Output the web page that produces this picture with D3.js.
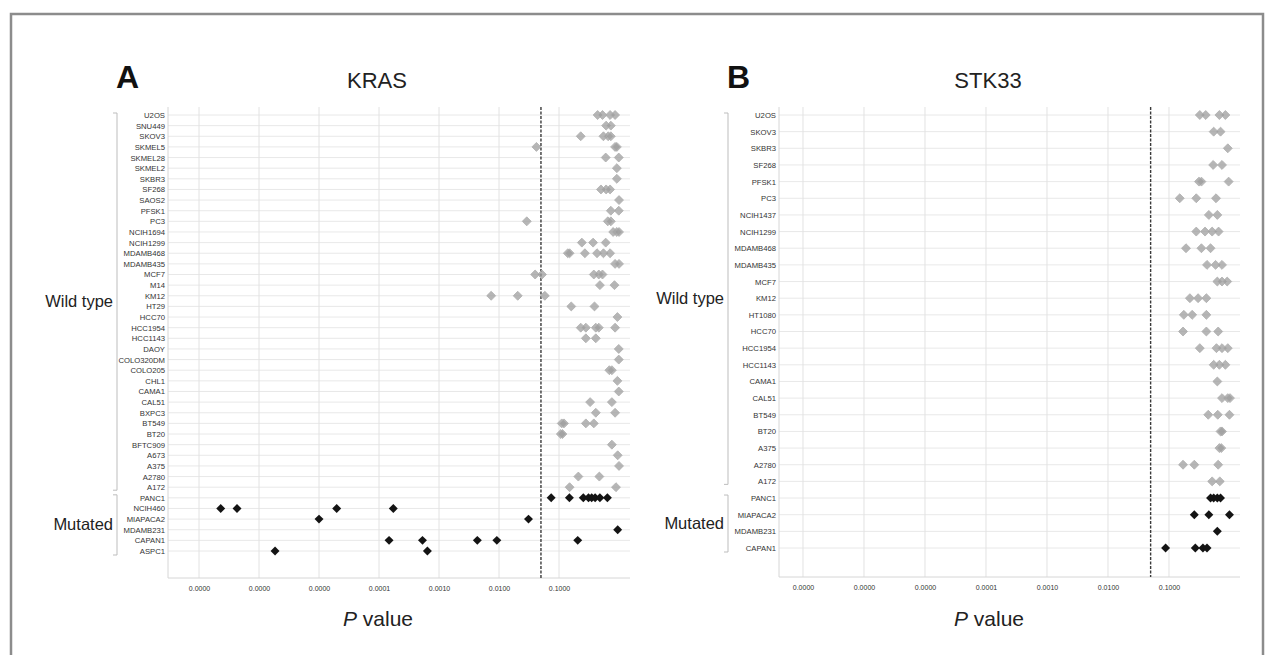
<!DOCTYPE html>
<html>
<head>
<meta charset="utf-8">
<script src="https://cdn.jsdelivr.net/npm/d3@7"></script>
<style>
  body { margin: 0; background: #fff; }
  svg { display: block; font-family: "Liberation Sans", Arial, sans-serif; }
</style>
</head>
<body>
<svg id="chart" width="1274" height="655"></svg>
<script>
// KRAS panel
const krasWild = ["U2OS","SNU449","SKOV3","SKMEL5","SKMEL28","SKMEL2","SKBR3","SF268","SAOS2","PFSK1",
  "PC3","NCIH1694","NCIH1299","MDAMB468","MDAMB435","MCF7","M14","KM12","HT29","HCC70","HCC1954",
  "HCC1143","DAOY","COLO320DM","COLO205","CHL1","CAMA1","CAL51","BXPC3","BT549","BT20","BFTC909",
  "A673","A375","A2780","A172"];
const krasMutated = ["PANC1","NCIH460","MIAPACA2","MDAMB231","CAPAN1","ASPC1"];
const krasWildP = [
  [0.44,0.53,0.71,0.86],[0.61,0.73],[0.23,0.55,0.66,0.73],[0.042,0.86,0.92],[0.60,0.99],[0.92],[0.92],
  [0.50,0.61,0.71],[1.0],[0.73,0.99],[0.029,0.65,0.73],[0.80,0.92,1.0],[0.24,0.37,0.60],
  [0.14,0.15,0.27,0.43,0.55,0.71],[0.86,1.0],[0.040,0.052,0.38,0.46,0.53],[0.48,0.84],
  [0.0074,0.0205,0.058],[0.16,0.39],[0.94],[0.23,0.28,0.41,0.46,0.86],[0.28,0.41],[0.99],[0.99],
  [0.69,0.76],[0.94],[0.99],[0.33,0.76],[0.41,0.86],[0.111,0.121,0.28,0.38],[0.107,0.114],[0.76],
  [0.95],[1.0],[0.21,0.47],[0.15,0.89]
];
const krasMutatedP = [
  [0.074,0.149,0.254,0.31,0.35,0.40,0.48,0.64],
  [2.3e-7,4.3e-7,1.97e-5,1.73e-4],
  [1.0e-5,0.031],
  [0.95],
  [1.47e-4,5.3e-4,4.35e-3,9.2e-3,0.205],
  [1.85e-6,6.4e-4]
];

// STK33 panel
const stkWild = ["U2OS","SKOV3","SKBR3","SF268","PFSK1","PC3","NCIH1437","NCIH1299","MDAMB468","MDAMB435",
  "MCF7","KM12","HT1080","HCC70","HCC1954","HCC1143","CAMA1","CAL51","BT549","BT20","A375","A2780","A172"];
const stkMutated = ["PANC1","MIAPACA2","MDAMB231","CAPAN1"];
const stkWildP = [
  [0.32,0.40,0.67,0.84],[0.54,0.70],[0.92],[0.53,0.74],[0.31,0.34,0.95],[0.15,0.28,0.59],[0.45,0.62],
  [0.28,0.39,0.51,0.65],[0.19,0.34,0.48],[0.42,0.58,0.74],[0.62,0.74,0.90],[0.22,0.30,0.41],
  [0.175,0.24,0.41],[0.17,0.41,0.64],[0.32,0.60,0.74,0.92],[0.54,0.67,0.84],[0.62],[0.74,0.92,1.0],
  [0.44,0.63,0.98],[0.70,0.74],[0.67,0.72],[0.17,0.26,0.64],[0.51,0.68]
];
const stkMutatedP = [
  [0.48,0.54,0.62,0.70],
  [0.26,0.45,0.98],
  [0.62],
  [0.088,0.27,0.36,0.42]
];

const tickValues = [1e-7, 1e-6, 1e-5, 1e-4, 1e-3, 1e-2, 1e-1];
const cutoff = 0.05;

const svg = d3.select("#chart");

// outer frame
svg.append("rect")
  .attr("x", 11).attr("y", 14).attr("width", 1252).attr("height", 660)
  .attr("fill", "none").attr("stroke", "#8c8c8c").attr("stroke-width", 2.5);

const diamond = d3.symbol().type(d3.symbolSquare).size(40);

function drawPanel(cfg) {
  const g = svg.append("g");
  const rows = cfg.wild.concat(cfg.mutated);

  const x = d3.scaleLog().domain(cfg.xDomain).range([cfg.left, cfg.right]);
  const y = d3.scalePoint().domain(rows).range([cfg.rowTop, cfg.rowBottom]);

  // horizontal grid per row
  g.append("g").selectAll("line")
    .data(rows)
    .join("line")
    .attr("x1", cfg.left).attr("x2", cfg.right)
    .attr("y1", d => y(d)).attr("y2", d => y(d))
    .attr("stroke", "#e2e2e2").attr("stroke-width", 0.8);

  // vertical grid
  g.append("g").selectAll("line")
    .data(tickValues)
    .join("line")
    .attr("x1", d => x(d)).attr("x2", d => x(d))
    .attr("y1", cfg.top).attr("y2", cfg.bottom)
    .attr("stroke", "#e2e2e2").attr("stroke-width", 1);

  // axis lines
  g.append("line")
    .attr("x1", cfg.left).attr("x2", cfg.left).attr("y1", cfg.top).attr("y2", cfg.bottom)
    .attr("stroke", "#d6d6d6");
  g.append("line")
    .attr("x1", cfg.left).attr("x2", cfg.right).attr("y1", cfg.bottom).attr("y2", cfg.bottom)
    .attr("stroke", "#d6d6d6");

  // x axis
  const xAxis = d3.axisBottom(x)
    .tickValues(tickValues)
    .tickFormat(d3.format(".4f"))
    .tickSize(0)
    .tickPadding(8);
  const ax = g.append("g").attr("transform", `translate(0,${cfg.bottom})`).call(xAxis);
  ax.select(".domain").remove();
  ax.selectAll("text")
    .attr("font-size", 7).attr("fill", "#333")
    .attr("font-family", "Liberation Sans, Arial, sans-serif");

  // y axis labels
  const yAxis = d3.axisLeft(y).tickSize(0).tickPadding(3);
  const ay = g.append("g").attr("transform", `translate(${cfg.left},0)`).call(yAxis);
  ay.select(".domain").remove();
  ay.selectAll("text")
    .attr("font-size", 7.7).attr("fill", "#333")
    .attr("font-family", "Liberation Sans, Arial, sans-serif");

  // cutoff line
  g.append("line")
    .attr("x1", x(cutoff)).attr("x2", x(cutoff))
    .attr("y1", cfg.top).attr("y2", cfg.bottom)
    .attr("stroke", "#3a3a3a").attr("stroke-width", 1.4)
    .attr("stroke-dasharray", "3,1.5");

  // points
  const wildPts = [];
  cfg.wild.forEach((name, i) => cfg.wildP[i].forEach(p => wildPts.push({name, p})));
  const mutPts = [];
  cfg.mutated.forEach((name, i) => cfg.mutatedP[i].forEach(p => mutPts.push({name, p})));

  g.append("g").selectAll("path")
    .data(wildPts)
    .join("path")
    .attr("d", diamond)
    .attr("transform", d => `translate(${x(d.p)},${y(d.name)}) rotate(45)`)
    .attr("fill", "#9e9e9e").attr("fill-opacity", 0.75)
    .attr("stroke", "#b0b0b0").attr("stroke-width", 0.8);

  g.append("g").selectAll("path")
    .data(mutPts)
    .join("path")
    .attr("d", diamond)
    .attr("transform", d => `translate(${x(d.p)},${y(d.name)}) rotate(45)`)
    .attr("fill", "#141414");

  // group brackets
  const bx = cfg.bracketX;
  const groups = [
    {label: "Wild type", y0: y(cfg.wild[0]) - 2, y1: y(cfg.wild[cfg.wild.length - 1]) + 3},
    {label: "Mutated", y0: y(cfg.mutated[0]) - 3, y1: y(cfg.mutated[cfg.mutated.length - 1]) + 4}
  ];
  groups.forEach(gr => {
    g.append("path")
      .attr("d", `M${bx - 4},${gr.y0}H${bx}V${gr.y1}H${bx - 4}`)
      .attr("fill", "none").attr("stroke", "#bdbdbd").attr("stroke-width", 1);
    g.append("text")
      .attr("x", bx - 4).attr("y", (gr.y0 + gr.y1) / 2 + 5.5)
      .attr("text-anchor", "end")
      .attr("font-size", 16.5).attr("fill", "#222")
      .text(gr.label);
  });

  // panel letter and title
  g.append("text")
    .attr("x", cfg.letterX).attr("y", 88)
    .attr("font-size", 32).attr("font-weight", "bold").attr("fill", "#111")
    .text(cfg.letter);
  g.append("text")
    .attr("x", cfg.titleX).attr("y", 88)
    .attr("text-anchor", "middle")
    .attr("font-size", 22).attr("fill", "#222")
    .text(cfg.title);

  // x label
  const xl = g.append("text")
    .attr("x", cfg.xLabelX).attr("y", 626)
    .attr("text-anchor", "middle")
    .attr("font-size", 21).attr("fill", "#222");
  xl.append("tspan").attr("font-style", "italic").text("P");
  xl.append("tspan").text(" value");
}

drawPanel({
  letter: "A", title: "KRAS",
  wild: krasWild, mutated: krasMutated, wildP: krasWildP, mutatedP: krasMutatedP,
  xDomain: [Math.pow(10, -7.517), Math.pow(10, 0.183)],
  left: 168, right: 630, top: 107, bottom: 578,
  rowTop: 115, rowBottom: 551,
  bracketX: 117, letterX: 116, titleX: 377, xLabelX: 378
});

drawPanel({
  letter: "B", title: "STK33",
  wild: stkWild, mutated: stkMutated, wildP: stkWildP, mutatedP: stkMutatedP,
  xDomain: [Math.pow(10, -7.393), Math.pow(10, 0.164)],
  left: 779, right: 1240, top: 107, bottom: 577,
  rowTop: 115, rowBottom: 548,
  bracketX: 728, letterX: 727, titleX: 988, xLabelX: 989
});
</script>
</body>
</html>
